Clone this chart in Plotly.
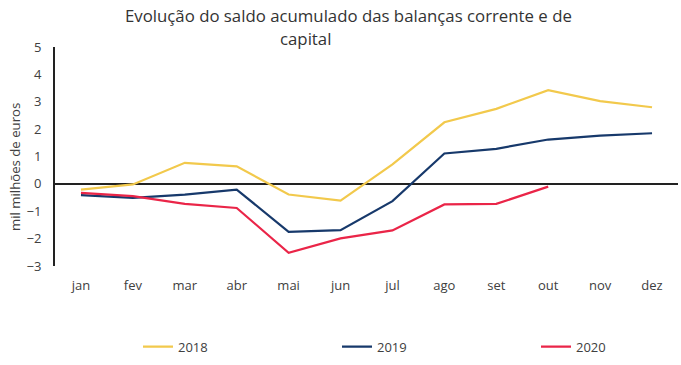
import plotly.graph_objects as go

months = ["jan", "fev", "mar", "abr", "mai", "jun", "jul", "ago", "set", "out", "nov", "dez"]
y2018 = [-0.21, -0.02, 0.77, 0.64, -0.39, -0.61, 0.71, 2.25, 2.74, 3.42, 3.02, 2.80]
y2019 = [-0.41, -0.51, -0.39, -0.21, -1.75, -1.69, -0.63, 1.11, 1.28, 1.62, 1.76, 1.85]
y2020 = [-0.33, -0.45, -0.73, -0.88, -2.52, -1.99, -1.70, -0.75, -0.73, -0.10]
y_ticks = [-3, -2, -1, 0, 1, 2, 3, 4, 5]

FONT = "Open Sans"
TXT = "#404040"

fig = go.Figure()
for name, ys, col in [("2018", y2018, "#F2C94C"), ("2019", y2019, "#17396B"), ("2020", y2020, "#EA2548")]:
    fig.add_trace(go.Scatter(x=months[:len(ys)], y=ys, mode="lines", name=name,
                             line=dict(color=col, width=2.2)))

fig.update_layout(
    width=681, height=365,
    margin=dict(l=55, r=3, t=47, b=99, autoexpand=False),
    paper_bgcolor="white", plot_bgcolor="white",
    font=dict(family=FONT, size=13, color=TXT),
    showlegend=True,
    legend=dict(orientation="h", x=(138 - 55) / 623, xref="paper", y=-0.30, yanchor="top",
                xanchor="left", entrywidth=154, entrywidthmode="pixels",
                font=dict(family=FONT, size=13, color=TXT), tracegroupgap=0),
)
fig.update_xaxes(type="category", range=[-0.5, 11.5], showgrid=False, showline=False, ticks="",
                 tickfont=dict(family=FONT, size=13, color=TXT), zeroline=False,
                 ticklabelstandoff=10)
fig.update_yaxes(range=[-3, 5], tickvals=y_ticks, showgrid=False,
                 showline=True, linecolor="#222222", linewidth=2, ticks="",
                 zeroline=True, zerolinecolor="#222222", zerolinewidth=2,
                 tickfont=dict(family=FONT, size=13, color=TXT), ticklabelstandoff=9)

fig.add_annotation(text="mil milhões de euros", xref="paper", yref="paper",
                   x=(15 - 55) / 623, y=(266 - 167) / 219, xanchor="center", yanchor="middle",
                   textangle=-90, showarrow=False,
                   font=dict(family=FONT, size=13.2, color=TXT))
fig.add_annotation(text="Evolução do saldo acumulado das balanças corrente e de", xref="paper", yref="paper",
                   x=(348 - 55) / 623, y=1, yshift=18, xanchor="center", yanchor="bottom", showarrow=False,
                   font=dict(family=FONT, size=16.8, color="#333333"))
fig.add_annotation(text="capital", xref="paper", yref="paper",
                   x=(305 - 55) / 623, y=1, yshift=-5, xanchor="center", yanchor="bottom", showarrow=False,
                   font=dict(family=FONT, size=16.8, color="#333333"))

fig.write_html("out.html", config={"displayModeBar": False},
               post_script="document.body.style.margin='0';")
